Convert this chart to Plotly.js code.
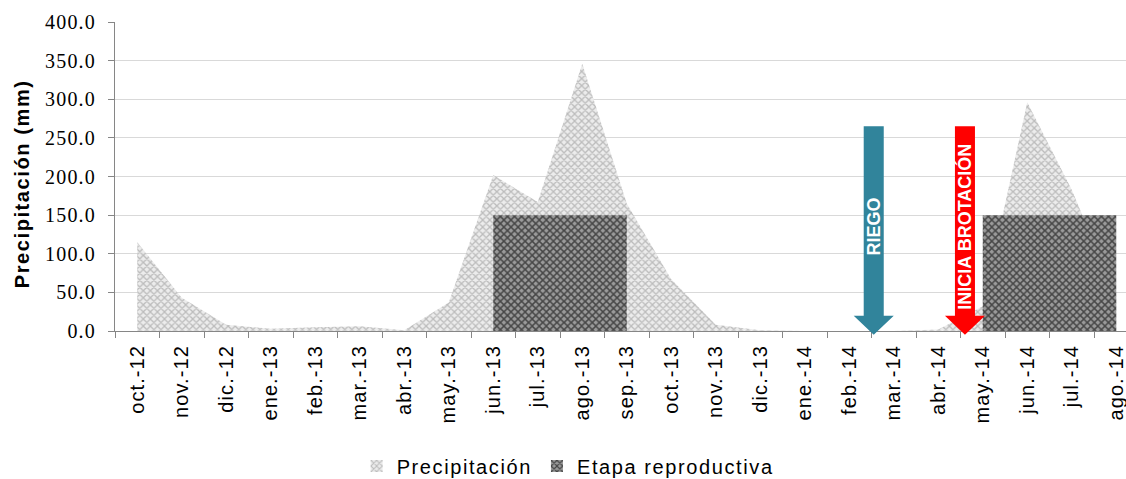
<!DOCTYPE html>
<html>
<head>
<meta charset="utf-8">
<script src="https://cdn.plot.ly/plotly-3.0.1.min.js"></script>
<style>
  html, body { margin: 0; padding: 0; overflow: hidden; background: #fff; }
  #chart { width: 1126px; height: 479px; }
  .xtick text { letter-spacing: 1.1px; }
  .ytick text { letter-spacing: 1.2px; }
  .legendtext { letter-spacing: 1.6px; }
  .ytitle-note text { letter-spacing: 1.6px; }
</style>
</head>
<body>
<div id="chart"></div>
<script>
// Monthly rainfall, Oct 2012 – Aug 2014
const months = ['oct.-12','nov.-12','dic.-12','ene.-13','feb.-13','mar.-13','abr.-13','may.-13',
                'jun.-13','jul.-13','ago.-13','sep.-13','oct.-13','nov.-13','dic.-13','ene.-14',
                'feb.-14','mar.-14','abr.-14','may.-14','jun.-14','jul.-14','ago.-14'];
const precipitacion = [115, 43, 8, 3, 5, 6, 1, 37, 202, 167, 346, 165, 67, 8, 1, 0, 0, 0, 2, 32, 296, 183, 45];
// Reproductive stage: two periods at 150 mm height
const etapa2013 = ['jun.-13', 'jul.-13', 'ago.-13', 'sep.-13'];
const etapa2014 = ['may.-14', 'jun.-14', 'jul.-14', 'ago.-14'];
const etapaNivel = [150, 150, 150, 150];
// Field events marked with arrows (position in month units)
const eventos = ['RIEGO', 'INICIA BROTACIÓN'];
const eventoPos = [16.55, 18.6];
const eventoColor = ['#31849B', '#FF0000'];

const yMax = 400;
const idx = months.map((_, i) => i);
const pos = m => months.indexOf(m);

const lightPattern = { shape: 'x', size: 5, solidity: 0.45, bgcolor: '#ececec', fgcolor: '#bcbcbc' };
const darkPattern  = { shape: 'x', size: 5, solidity: 0.5,  bgcolor: '#9a9a9a', fgcolor: '#474747' };

const etapaTrace = ms => ({
  x: ms.map(pos), y: etapaNivel, type: 'scatter', mode: 'lines',
  fill: 'tozeroy', line: { width: 0, color: 'rgba(0,0,0,0)' },
  fillcolor: '#777777', fillpattern: darkPattern,
  showlegend: false, hoverinfo: 'skip'
});

const traces = [
  {
    x: idx, y: precipitacion, type: 'scatter', mode: 'lines',
    fill: 'tozeroy', line: { width: 0, color: 'rgba(0,0,0,0)' },
    fillcolor: '#d6d6d6', fillpattern: lightPattern,
    showlegend: false, hoverinfo: 'skip'
  },
  etapaTrace(etapa2013),
  etapaTrace(etapa2014),
  // legend swatches
  { x: [null], y: [null], type: 'bar', name: 'Precipitación',
    marker: { color: '#ececec', pattern: lightPattern, line: { width: 0 } } },
  { x: [null], y: [null], type: 'bar', name: 'Etapa reproductiva',
    marker: { color: '#9a9a9a', pattern: darkPattern, line: { width: 0 } } }
];

// Arrow geometry in axis units
const shaftHalf = 0.225, headHalf = 0.45, headLen = 24.6, arrowTop = 265, arrowTip = -5;
const py = v => v / yMax;
const shapes = eventos.map((_, i) => {
  const c = eventoPos[i];
  const hb = arrowTip + headLen;
  const d = `M ${c - shaftHalf},${py(arrowTop)} L ${c + shaftHalf},${py(arrowTop)} ` +
            `L ${c + shaftHalf},${py(hb)} L ${c + headHalf},${py(hb)} L ${c},${py(arrowTip)} ` +
            `L ${c - headHalf},${py(hb)} L ${c - shaftHalf},${py(hb)} Z`;
  return { type: 'path', xref: 'x', yref: 'paper', path: d,
           fillcolor: eventoColor[i], line: { width: 0 }, layer: 'above' };
});

const annotations = eventos.map((t, i) => ({
  x: eventoPos[i], y: 135, xref: 'x', yref: 'y', text: t, showarrow: false,
  textangle: -90, font: { family: 'Liberation Sans, Arial, sans-serif', size: 18, color: '#ffffff', weight: 'bold' }
}));
annotations.push({
  xref: 'paper', yref: 'paper', x: -0.092, y: 0.476, xanchor: 'center', yanchor: 'middle',
  text: '<b>Precipitación (mm)</b>', showarrow: false, textangle: -90,
  font: { family: 'Liberation Sans, Arial, sans-serif', size: 20, color: '#000' }
});

const layout = {
  width: 1126, height: 479,
  margin: { l: 115, r: 0, t: 22, b: 148, autoexpand: false },
  paper_bgcolor: '#ffffff', plot_bgcolor: '#ffffff',
  showlegend: true,
  legend: {
    orientation: 'h', x: 0.239, xanchor: 'left', y: -0.437, yanchor: 'middle',
    font: { family: 'Liberation Sans, Arial, sans-serif', size: 20, color: '#000' },
    itemclick: false, itemdoubleclick: false, traceorder: 'normal'
  },
  xaxis: {
    range: [-0.5, -0.5 + 1011 / 44.5],
    tickmode: 'array', tickvals: idx, ticktext: months, tickangle: -90,
    ticks: '', showgrid: false, zeroline: false,
    showline: true, linecolor: '#868686', linewidth: 1,
    minor: { ticks: 'outside', tickmode: 'linear', tick0: -0.5, dtick: 1, ticklen: 6, tickcolor: '#868686', showgrid: false },
    ticklabelstandoff: 5, ticklabeloverflow: 'allow',
    tickfont: { family: 'Liberation Sans, Arial, sans-serif', size: 20, color: '#000' },
    fixedrange: true
  },
  yaxis: {
    range: [0, yMax], dtick: 50, tickformat: '.1f',
    ticks: 'outside', ticklen: 6, tickcolor: '#868686',
    showline: true, linecolor: '#868686', linewidth: 1,
    showgrid: true, gridcolor: '#d9d9d9', gridwidth: 1, zeroline: false,
    ticklabelstandoff: 8,
    tickfont: { family: 'Liberation Serif, Times New Roman, serif', size: 20, color: '#000' },
    fixedrange: true
  },
  shapes: shapes,
  annotations: annotations,
  bargap: 0
};

Plotly.newPlot('chart', traces, layout, { displayModeBar: false, staticPlot: true }).then(gd => {
  const notes = gd.querySelectorAll('.annotation');
  if (notes.length) notes[notes.length - 1].classList.add('ytitle-note');
});
</script>
</body>
</html>
